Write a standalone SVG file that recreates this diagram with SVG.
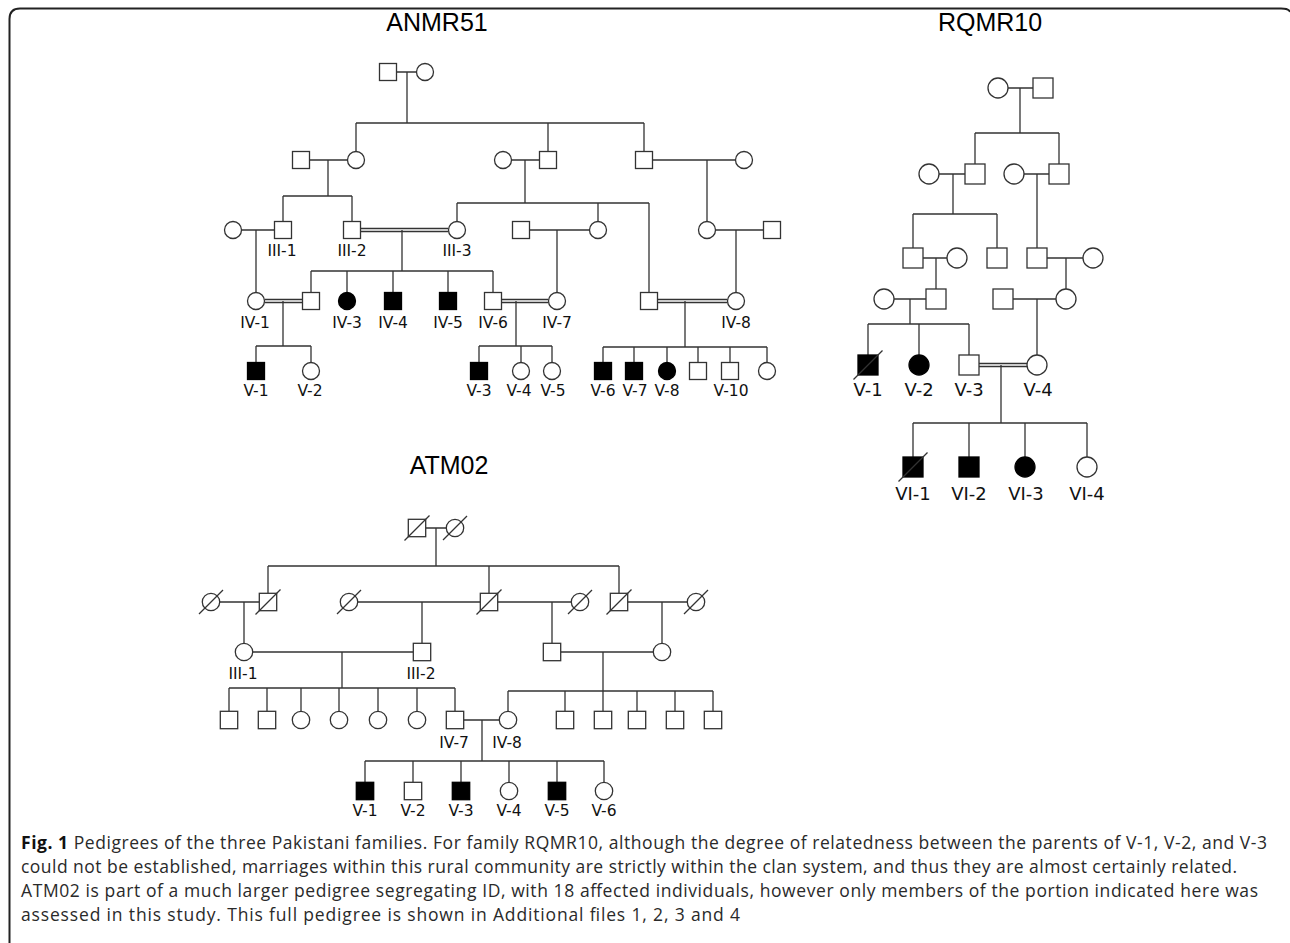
<svg xmlns="http://www.w3.org/2000/svg" width="1290" height="943" viewBox="0 0 1290 943">
<style>
.l{stroke:#333;stroke-width:1.3;fill:none}
.n{fill:#fff;stroke:#333;stroke-width:1.3}
.f{fill:#000;stroke:#000;stroke-width:1.3}
.d{stroke:#333;stroke-width:1.2}
.t{font-family:"Liberation Sans",Arial,sans-serif;font-size:25px;text-anchor:middle;fill:#000}
.lb{font-family:"DejaVu Sans",sans-serif;font-size:15.5px;text-anchor:middle;fill:#111}
.lb2{font-family:"DejaVu Sans",sans-serif;font-size:18px;text-anchor:middle;fill:#111}
.cap{font-family:"Open Sans","Noto Sans",sans-serif;font-size:17.5px;fill:#2a2a2a}
</style>
<rect width="1290" height="943" fill="#fff"/>
<path d="M9.5 943 L9.5 19 Q9.5 8.5 20 8.5 L1281 8.5 Q1289 8.5 1290 12" fill="none" stroke="#222" stroke-width="2"/>

<text class="t" x="437" y="31">ANMR51</text>
<text class="t" x="990" y="31">RQMR10</text>
<text class="t" x="449" y="474">ATM02</text>

<!-- ===== ANMR51 connectors ===== -->
<g id="connectors-anmr51" class="l">
<path d="M396.5 72H416.5M407 72V123M356 123H644M356 123V151.5M548 123V151.5M644 123V151.5"/>
<path d="M309.5 160H347.5M511.5 160H539.5M652.5 160H735.5"/>
<path d="M328 160V196M283 196H352M283 196V221.5M352 196V221.5"/>
<path d="M525 160V203M457 203H649M457 203V221.5M598 203V221.5M649 203V292.5"/>
<path d="M707 160V221.5"/>
<path d="M241.5 230H274.5M529.5 230H589.5M715.5 230H763.5"/>
<path d="M360.5 228.5H448.5M360.5 231.5H448.5"/>
<path d="M256 230V292.5M557 230V292.5M736 230V292.5"/>
<path d="M402 230V271M311 271H493M311 271V292.5M347 271V292.5M393 271V292.5M448 271V292.5M493 271V292.5"/>
<path d="M264.5 299.5H302.5M264.5 302.5H302.5M501.5 299.5H548.5M501.5 302.5H548.5M657.5 299.5H727.5M657.5 302.5H727.5"/>
<path d="M283 301V346M256 346H311M256 346V362.5M311 346V362.5"/>
<path d="M516 301V346M479 346H552M479 346V362.5M521 346V362.5M552 346V362.5"/>
<path d="M685 301V347M603 347H767M603 347V362.5M634 347V362.5M667 347V362.5M698 347V362.5M730 347V362.5M767 347V362.5"/>
</g>

<g id="anmr51-nodes">
<g id="a-I-1"><rect class="n" x="379.5" y="63.5" width="17" height="17"/></g>
<g id="a-I-2"><circle class="n" cx="425" cy="72" r="8.5"/></g>
<g id="a-II-1"><rect class="n" x="292.5" y="151.5" width="17" height="17"/></g>
<g id="a-II-2"><circle class="n" cx="356" cy="160" r="8.5"/></g>
<g id="a-II-3"><circle class="n" cx="503" cy="160" r="8.5"/></g>
<g id="a-II-4"><rect class="n" x="539.5" y="151.5" width="17" height="17"/></g>
<g id="a-II-5"><rect class="n" x="635.5" y="151.5" width="17" height="17"/></g>
<g id="a-II-6"><circle class="n" cx="744" cy="160" r="8.5"/></g>
<g id="a-III-0"><circle class="n" cx="233" cy="230" r="8.5"/></g>
<g id="a-III-1"><rect class="n" x="274.5" y="221.5" width="17" height="17"/><text class="lb" x="282" y="256">III-1</text></g>
<g id="a-III-2"><rect class="n" x="343.5" y="221.5" width="17" height="17"/><text class="lb" x="352" y="256">III-2</text></g>
<g id="a-III-3"><circle class="n" cx="457" cy="230" r="8.5"/><text class="lb" x="457" y="256">III-3</text></g>
<g id="a-III-4"><rect class="n" x="512.5" y="221.5" width="17" height="17"/></g>
<g id="a-III-5"><circle class="n" cx="598" cy="230" r="8.5"/></g>
<g id="a-III-6"><circle class="n" cx="707" cy="230" r="8.5"/></g>
<g id="a-III-7"><rect class="n" x="763.5" y="221.5" width="17" height="17"/></g>
<g id="a-IV-1"><circle class="n" cx="256" cy="301" r="8.5"/><text class="lb" x="255" y="328">IV-1</text></g>
<g id="a-IV-2"><rect class="n" x="302.5" y="292.5" width="17" height="17"/></g>
<g id="a-IV-3"><circle class="f" cx="347" cy="301" r="8.5"/><text class="lb" x="347" y="328">IV-3</text></g>
<g id="a-IV-4"><rect class="f" x="384.5" y="292.5" width="17" height="17"/><text class="lb" x="393" y="328">IV-4</text></g>
<g id="a-IV-5"><rect class="f" x="439.5" y="292.5" width="17" height="17"/><text class="lb" x="448" y="328">IV-5</text></g>
<g id="a-IV-6"><rect class="n" x="484.5" y="292.5" width="17" height="17"/><text class="lb" x="493" y="328">IV-6</text></g>
<g id="a-IV-7"><circle class="n" cx="557" cy="301" r="8.5"/><text class="lb" x="557" y="328">IV-7</text></g>
<g id="a-IV-x"><rect class="n" x="640.5" y="292.5" width="17" height="17"/></g>
<g id="a-IV-8"><circle class="n" cx="736" cy="301" r="8.5"/><text class="lb" x="736" y="328">IV-8</text></g>
<g id="a-V-1"><rect class="f" x="247.5" y="362.5" width="17" height="17"/><text class="lb" x="256" y="396">V-1</text></g>
<g id="a-V-2"><circle class="n" cx="311" cy="371" r="8.5"/><text class="lb" x="310" y="396">V-2</text></g>
<g id="a-V-3"><rect class="f" x="470.5" y="362.5" width="17" height="17"/><text class="lb" x="479" y="396">V-3</text></g>
<g id="a-V-4"><circle class="n" cx="521" cy="371" r="8.5"/><text class="lb" x="519" y="396">V-4</text></g>
<g id="a-V-5"><circle class="n" cx="552" cy="371" r="8.5"/><text class="lb" x="553" y="396">V-5</text></g>
<g id="a-V-6"><rect class="f" x="594.5" y="362.5" width="17" height="17"/><text class="lb" x="603" y="396">V-6</text></g>
<g id="a-V-7"><rect class="f" x="625.5" y="362.5" width="17" height="17"/><text class="lb" x="635" y="396">V-7</text></g>
<g id="a-V-8"><circle class="f" cx="667" cy="371" r="8.5"/><text class="lb" x="667" y="396">V-8</text></g>
<g id="a-V-9"><rect class="n" x="689.5" y="362.5" width="17" height="17"/></g>
<g id="a-V-10"><rect class="n" x="721.5" y="362.5" width="17" height="17"/><text class="lb" x="731" y="396">V-10</text></g>
<g id="a-V-11"><circle class="n" cx="767" cy="371" r="8.5"/></g>
</g>

<!-- ===== RQMR10 ===== -->
<g id="connectors-rqmr10" class="l">
<path d="M1008 88H1033M1020 88V133M975 133H1059M975 133V164M1059 133V164"/>
<path d="M939 174H965M1024 174H1049M953 174V214M913 214H997M913 214V248M997 214V248M1037 174V248"/>
<path d="M923 258H947M1047 258H1083M936 258V289M1066 258V289"/>
<path d="M894 299H926M1013 299H1056M910 299V324M868 324H969M868 324V355M919 324V355M969 324V355M1037 299V355"/>
<path d="M979 363.5H1027M979 366.5H1027M1001 365V423M913 423H1087M913 423V457M969 423V457M1025 423V457M1087 423V457"/>
</g>
<g id="rqmr10-nodes">
<g id="r-I-1"><circle class="n" cx="998" cy="88" r="10"/></g>
<g id="r-I-2"><rect class="n" x="1033" y="78" width="20" height="20"/></g>
<g id="r-II-1"><circle class="n" cx="929" cy="174" r="10"/></g>
<g id="r-II-2"><rect class="n" x="965" y="164" width="20" height="20"/></g>
<g id="r-II-3"><circle class="n" cx="1014" cy="174" r="10"/></g>
<g id="r-II-4"><rect class="n" x="1049" y="164" width="20" height="20"/></g>
<g id="r-III-1"><rect class="n" x="903" y="248" width="20" height="20"/></g>
<g id="r-III-2"><circle class="n" cx="957" cy="258" r="10"/></g>
<g id="r-III-3"><rect class="n" x="987" y="248" width="20" height="20"/></g>
<g id="r-III-4"><rect class="n" x="1027" y="248" width="20" height="20"/></g>
<g id="r-III-5"><circle class="n" cx="1093" cy="258" r="10"/></g>
<g id="r-IV-1"><circle class="n" cx="884" cy="299" r="10"/></g>
<g id="r-IV-2"><rect class="n" x="926" y="289" width="20" height="20"/></g>
<g id="r-IV-3"><rect class="n" x="993" y="289" width="20" height="20"/></g>
<g id="r-IV-4"><circle class="n" cx="1066" cy="299" r="10"/></g>
<g id="r-V-1"><rect class="f" x="858" y="355" width="20" height="20"/><line class="d" x1="853.5" y1="379.5" x2="882.5" y2="350.5"/><text class="lb2" x="868" y="396">V-1</text></g>
<g id="r-V-2"><circle class="f" cx="919" cy="365" r="10"/><text class="lb2" x="919" y="396">V-2</text></g>
<g id="r-V-3"><rect class="n" x="959" y="355" width="20" height="20"/><text class="lb2" x="969" y="396">V-3</text></g>
<g id="r-V-4"><circle class="n" cx="1037" cy="365" r="10"/><text class="lb2" x="1038" y="396">V-4</text></g>
<g id="r-VI-1"><rect class="f" x="903" y="457" width="20" height="20"/><line class="d" x1="898.5" y1="481.5" x2="927.5" y2="452.5"/><text class="lb2" x="913" y="500">VI-1</text></g>
<g id="r-VI-2"><rect class="f" x="959" y="457" width="20" height="20"/><text class="lb2" x="969" y="500">VI-2</text></g>
<g id="r-VI-3"><circle class="f" cx="1025" cy="467" r="10"/><text class="lb2" x="1026" y="500">VI-3</text></g>
<g id="r-VI-4"><circle class="n" cx="1087" cy="467" r="10"/><text class="lb2" x="1087" y="500">VI-4</text></g>
</g>

<!-- ===== ATM02 ===== -->
<g id="connectors-atm02" class="l">
<path d="M425.7 528H446.3M436 528V566M268 566H619M268 566V593.3M489 566V593.3M619 566V593.3"/>
<path d="M219.7 602H259.3M357.7 602H480.3M497.7 602H571.3M627.7 602H687.3"/>
<path d="M244 602V643.3M422 602V643.3M552 602V643.3M662 602V643.3"/>
<path d="M252.7 652H413.3M560.7 652H653.3"/>
<path d="M342 652V688M229 688H455M229 688V711.3M267 688V711.3M301 688V711.3M339 688V711.3M378 688V711.3M417 688V711.3M455 688V711.3"/>
<path d="M603 652V691M508 691H713M508 691V711.3M565 691V711.3M603 691V711.3M637 691V711.3M675 691V711.3M713 691V711.3"/>
<path d="M463.7 720H499.3M482 720V761M365 761H604M365 761V782.3M413 761V782.3M461 761V782.3M509 761V782.3M557 761V782.3M604 761V782.3"/>
</g>
<g id="atm02-nodes">
<g id="t-I-1"><rect class="n" x="408.3" y="519.3" width="17.4" height="17.4"/><line class="d" x1="404.5" y1="540.5" x2="429.5" y2="515.5"/></g>
<g id="t-I-2"><circle class="n" cx="455" cy="528" r="8.7"/><line class="d" x1="443" y1="540" x2="467" y2="516"/></g>
<g id="t-II-1"><circle class="n" cx="211" cy="602" r="8.7"/><line class="d" x1="199" y1="614" x2="223" y2="590"/></g>
<g id="t-II-2"><rect class="n" x="259.3" y="593.3" width="17.4" height="17.4"/><line class="d" x1="255.5" y1="614.5" x2="280.5" y2="589.5"/></g>
<g id="t-II-3"><circle class="n" cx="349" cy="602" r="8.7"/><line class="d" x1="337" y1="614" x2="361" y2="590"/></g>
<g id="t-II-4"><rect class="n" x="480.3" y="593.3" width="17.4" height="17.4"/><line class="d" x1="476.5" y1="614.5" x2="501.5" y2="589.5"/></g>
<g id="t-II-5"><circle class="n" cx="580" cy="602" r="8.7"/><line class="d" x1="568" y1="614" x2="592" y2="590"/></g>
<g id="t-II-6"><rect class="n" x="610.3" y="593.3" width="17.4" height="17.4"/><line class="d" x1="606.5" y1="614.5" x2="631.5" y2="589.5"/></g>
<g id="t-II-7"><circle class="n" cx="696" cy="602" r="8.7"/><line class="d" x1="684" y1="614" x2="708" y2="590"/></g>
<g id="t-III-1"><circle class="n" cx="244" cy="652" r="8.7"/><text class="lb" x="243" y="679">III-1</text></g>
<g id="t-III-2"><rect class="n" x="413.3" y="643.3" width="17.4" height="17.4"/><text class="lb" x="421" y="679">III-2</text></g>
<g id="t-III-3"><rect class="n" x="543.3" y="643.3" width="17.4" height="17.4"/></g>
<g id="t-III-4"><circle class="n" cx="662" cy="652" r="8.7"/></g>
<g id="t-IV-1"><rect class="n" x="220.3" y="711.3" width="17.4" height="17.4"/></g>
<g id="t-IV-2"><rect class="n" x="258.3" y="711.3" width="17.4" height="17.4"/></g>
<g id="t-IV-3"><circle class="n" cx="301" cy="720" r="8.7"/></g>
<g id="t-IV-4"><circle class="n" cx="339" cy="720" r="8.7"/></g>
<g id="t-IV-5"><circle class="n" cx="378" cy="720" r="8.7"/></g>
<g id="t-IV-6"><circle class="n" cx="417" cy="720" r="8.7"/></g>
<g id="t-IV-7"><rect class="n" x="446.3" y="711.3" width="17.4" height="17.4"/><text class="lb" x="454" y="748">IV-7</text></g>
<g id="t-IV-8"><circle class="n" cx="508" cy="720" r="8.7"/><text class="lb" x="507" y="748">IV-8</text></g>
<g id="t-IV-9"><rect class="n" x="556.3" y="711.3" width="17.4" height="17.4"/></g>
<g id="t-IV-10"><rect class="n" x="594.3" y="711.3" width="17.4" height="17.4"/></g>
<g id="t-IV-11"><rect class="n" x="628.3" y="711.3" width="17.4" height="17.4"/></g>
<g id="t-IV-12"><rect class="n" x="666.3" y="711.3" width="17.4" height="17.4"/></g>
<g id="t-IV-13"><rect class="n" x="704.3" y="711.3" width="17.4" height="17.4"/></g>
<g id="t-V-1"><rect class="f" x="356.3" y="782.3" width="17.4" height="17.4"/><text class="lb" x="365" y="816">V-1</text></g>
<g id="t-V-2"><rect class="n" x="404.3" y="782.3" width="17.4" height="17.4"/><text class="lb" x="413" y="816">V-2</text></g>
<g id="t-V-3"><rect class="f" x="452.3" y="782.3" width="17.4" height="17.4"/><text class="lb" x="461" y="816">V-3</text></g>
<g id="t-V-4"><circle class="n" cx="509" cy="791" r="8.7"/><text class="lb" x="509" y="816">V-4</text></g>
<g id="t-V-5"><rect class="f" x="548.3" y="782.3" width="17.4" height="17.4"/><text class="lb" x="557" y="816">V-5</text></g>
<g id="t-V-6"><circle class="n" cx="604" cy="791" r="8.7"/><text class="lb" x="604" y="816">V-6</text></g>
</g>

<g id="caption">
<text class="cap" x="21" y="849" textLength="1246" lengthAdjust="spacing"><tspan font-weight="bold" fill="#111">Fig. 1</tspan> Pedigrees of the three Pakistani families. For family RQMR10, although the degree of relatedness between the parents of V-1, V-2, and V-3</text>
<text class="cap" x="21" y="873" textLength="1216" lengthAdjust="spacing">could not be established, marriages within this rural community are strictly within the clan system, and thus they are almost certainly related.</text>
<text class="cap" x="21" y="897" textLength="1237" lengthAdjust="spacing">ATM02 is part of a much larger pedigree segregating ID, with 18 affected individuals, however only members of the portion indicated here was</text>
<text class="cap" x="21" y="921" textLength="719" lengthAdjust="spacing">assessed in this study. This full pedigree is shown in Additional files 1, 2, 3 and 4</text>
</g>
</svg>
